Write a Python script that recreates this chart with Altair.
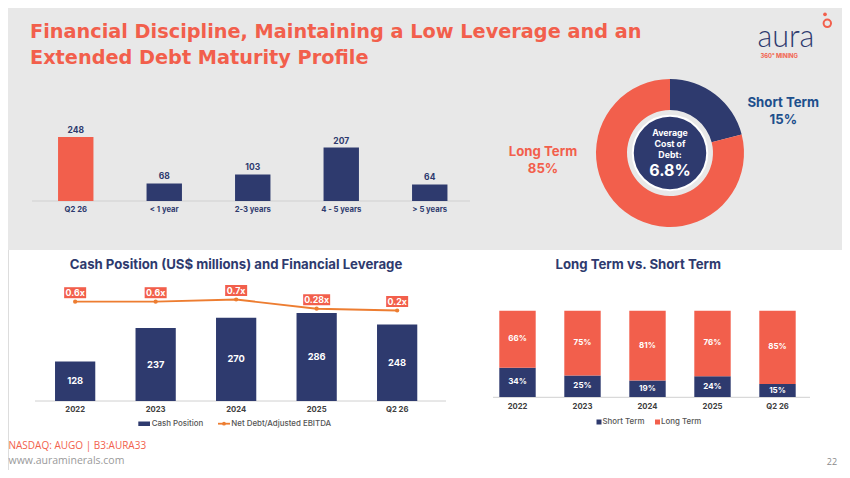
import altair as alt
import pandas as pd

# ---------------- colours / fonts ----------------
CORAL = "#F25F4C"
NAVY = "#2E3A6E"
BLUE = "#1D4F8C"
ORANGE = "#ED7D31"
BG = "#E8E8E8"
AXIS_TXT = "#404040"
LEGEND_TXT = "#555555"
FONT = "Inter"
TITLE_FONT = "DejaVu Sans"

# ---------------- data ----------------
maturity_buckets = ["Q2 26", "< 1 year", "2-3 years", "4 - 5 years", "> 5 years"]
maturity_amounts = [248, 68, 103, 207, 64]

periods = ["2022", "2023", "2024", "2025", "Q2 26"]
cash_position = [128, 237, 270, 286, 248]
net_debt_ebitda = [0.6, 0.6, 0.7, 0.28, 0.2]
leverage_labels = ["0.6x", "0.6x", "0.7x", "0.28x", "0.2x"]

short_term_pct = [34, 25, 19, 24, 15]
long_term_pct = [66, 75, 81, 76, 85]

donut_slices = ["Short Term", "Long Term"]
donut_drawn_share = [21, 79]   # slice sizes as drawn in the picture
donut_labels = ["15%", "85%"]
avg_cost_caption = ["Average", "Cost of", "Debt:"]
avg_cost_of_debt = "6.8%"

W, H = 834, 462

# ---------------- tables ----------------
mat_df = pd.DataFrame({"bucket": maturity_buckets, "amount": maturity_amounts})
cash_df = pd.DataFrame({"year": periods, "cash": cash_position,
                        "lev": net_debt_ebitda, "lev_label": leverage_labels})
rows = []
for y, s, l in zip(periods, short_term_pct, long_term_pct):
    rows.append({"year": y, "term": "Short Term", "pct": s, "start": 0, "end": s})
    rows.append({"year": y, "term": "Long Term", "pct": l, "start": s, "end": s + l})
term_df = pd.DataFrame(rows)
donut_df = pd.DataFrame({"slice": donut_slices, "share": donut_drawn_share,
                         "ord": list(range(len(donut_slices)))})

ONE = pd.DataFrame({"k": [0]})


def note(text, x, y, size, color, weight="bold", align="center",
         baseline="middle", font=FONT, **kw):
    return alt.Chart(ONE).mark_text(
        text=text, fontSize=size, color=color, fontWeight=weight,
        align=align, baseline=baseline, font=font, **kw
    ).encode(x=alt.value(x), y=alt.value(y))


def hline(x1, x2, y, color="#D0D0D0", width=1):
    return alt.Chart(ONE).mark_rule(color=color, strokeWidth=width).encode(
        x=alt.value(x1), x2=alt.value(x2), y=alt.value(y))


def box(x1, x2, y1, y2, color):
    return alt.Chart(ONE).mark_rect(color=color).encode(
        x=alt.value(x1), x2=alt.value(x2), y=alt.value(y1), y2=alt.value(y2))


layers = []

# background band
layers.append(box(0, W, 0, 242, BG))

# header
layers.append(note("Financial Discipline, Maintaining a Low Leverage and an", 22, 29.5, 19.3,
                   CORAL, align="left", baseline="alphabetic", font=TITLE_FONT))
layers.append(note("Extended Debt Maturity Profile", 22, 55.5, 19.3, CORAL,
                   align="left", baseline="alphabetic", font=TITLE_FONT))
# logo
layers.append(note("aura", 749.5, 38.7, 30.5, NAVY, weight=300, align="left",
                   baseline="alphabetic", font="Lato"))
layers.append(note("360° MINING", 752.5, 47.7, 5.8, CORAL, align="left"))
layers.append(alt.Chart(ONE).mark_point(shape="circle", size=55, filled=False,
                                        stroke=CORAL, strokeWidth=2, opacity=1)
              .encode(x=alt.value(819.3), y=alt.value(15.3)))
layers.append(alt.Chart(ONE).mark_point(shape="circle", size=14, filled=True,
                                        fill=CORAL, opacity=1)
              .encode(x=alt.value(817), y=alt.value(6.3)))

# ---------------- top-left: debt maturity ----------------
x_mat = alt.X("bucket:N", sort=maturity_buckets, axis=None,
              scale=alt.Scale(domain=maturity_buckets, range=[23.5, 466],
                              paddingInner=0.6, paddingOuter=0.3))
y_mat = alt.Y("amount:Q", axis=None,
              scale=alt.Scale(domain=[0, 248], range=[193, 129], nice=False))
layers.append(hline(24, 462, 193))
layers.append(alt.Chart(mat_df).mark_bar().transform_calculate(
    kind="datum.bucket == 'Q2 26' ? 'cash' : 'debt'").encode(
    x=x_mat, y=y_mat,
    color=alt.Color("kind:N", legend=None,
                    scale=alt.Scale(domain=["cash", "debt"], range=[CORAL, NAVY]))))
layers.append(alt.Chart(mat_df).mark_text(
    dy=-4, baseline="alphabetic", fontSize=8.5, fontWeight="bold", color=NAVY, font=FONT
).encode(x=x_mat, y=y_mat, text="amount:Q"))
layers.append(alt.Chart(mat_df).mark_text(
    baseline="middle", fontSize=7.7, fontWeight="bold", color=NAVY, font=FONT
).encode(x=x_mat, y=alt.value(202), text="bucket:N"))

# ---------------- top-right: donut ----------------
CX, CY = 662, 145
layers.append(alt.Chart(donut_df).mark_arc(radius=74, radius2=43).encode(
    theta=alt.Theta("share:Q", stack=True),
    order=alt.Order("ord:Q"),
    color=alt.Color("slice:N", legend=None,
                    scale=alt.Scale(domain=donut_slices, range=[NAVY, CORAL])),
    x=alt.value(CX), y=alt.value(CY)))
layers.append(alt.Chart(ONE).mark_point(shape="circle", size=3.14159 * 42 * 42,
                                        filled=True, fill=NAVY, stroke="white",
                                        strokeWidth=2, opacity=1)
              .encode(x=alt.value(CX), y=alt.value(CY)))
for line_text, ly in zip(avg_cost_caption, [125, 136, 147]):
    layers.append(note(line_text, CX, ly, 8.8, "white"))
layers.append(note(avg_cost_of_debt, CX, 162.5, 16, "white"))
layers.append(note(donut_slices[0], 775.3, 95.3, 13.2, BLUE))
layers.append(note(donut_labels[0], 775.3, 112, 13.2, BLUE))
layers.append(note(donut_slices[1], 535, 143.8, 13.2, CORAL))
layers.append(note(donut_labels[1], 535, 160.5, 13.2, CORAL))

# ---------------- bottom-left: cash & leverage ----------------
layers.append(note("Cash Position (US$ millions) and Financial Leverage", 228, 257, 13.2, NAVY))
x_yr = alt.X("year:N", sort=periods, axis=None,
             scale=alt.Scale(domain=periods, range=[26.9, 429.4],
                             paddingInner=0.5, paddingOuter=0.25))
cash_scale = alt.Scale(domain=[0, 300], range=[393, 300.6], nice=False)
lev_scale = alt.Scale(domain=[0, 1], range=[306.9, 284.9], nice=False)
layers.append(hline(27, 438, 393))
layers.append(alt.Chart(cash_df).mark_bar(color=NAVY).encode(
    x=x_yr, y=alt.Y("cash:Q", axis=None, scale=cash_scale)))
layers.append(alt.Chart(cash_df).transform_calculate(mid="datum.cash / 2").mark_text(
    baseline="middle", fontSize=9.3, fontWeight="bold", color="white", font=FONT
).encode(x=x_yr, y=alt.Y("mid:Q", axis=None, scale=cash_scale), text="cash:Q"))
layers.append(alt.Chart(cash_df).mark_line(color=ORANGE, strokeWidth=1.8).encode(
    x=x_yr, y=alt.Y("lev:Q", axis=None, scale=lev_scale)))
layers.append(alt.Chart(cash_df).mark_point(shape="circle", size=18, filled=True,
                                            color=ORANGE, opacity=1).encode(
    x=x_yr, y=alt.Y("lev:Q", axis=None, scale=lev_scale)))
for n, w in [(4, 22), (5, 27)]:
    layers.append(alt.Chart(cash_df).transform_filter(
        f"length(datum.lev_label) == {n}").mark_bar(
        color=CORAL, width=w, yOffset=-14.5, y2Offset=-3.5).encode(
        x=x_yr, y=alt.Y("lev:Q", axis=None, scale=lev_scale), y2="lev:Q"))
layers.append(alt.Chart(cash_df).mark_text(
    dy=-9, baseline="middle", fontSize=8.8, fontWeight="bold", color="white", font=FONT
).encode(x=x_yr, y=alt.Y("lev:Q", axis=None, scale=lev_scale), text="lev_label:N"))
layers.append(alt.Chart(cash_df).mark_text(
    baseline="middle", fontSize=7.7, fontWeight="bold", color=AXIS_TXT, font=FONT
).encode(x=x_yr, y=alt.value(402), text="year:N"))
# legend
layers.append(box(130.3, 142, 413.5, 418, NAVY))
layers.append(note("Cash Position", 143.7, 415.7, 7.9, LEGEND_TXT, weight=500, align="left"))
layers.append(hline(210, 222, 415.7, ORANGE, 1.8))
layers.append(alt.Chart(ONE).mark_point(shape="circle", size=14, filled=True,
                                        color=ORANGE, opacity=1)
              .encode(x=alt.value(216), y=alt.value(415.7)))
layers.append(note("Net Debt/Adjusted EBITDA", 223.3, 415.7, 7.9, LEGEND_TXT,
                   weight=500, align="left"))

# ---------------- bottom-right: long vs short ----------------
layers.append(note("Long Term vs. Short Term", 630.3, 257, 13.2, NAVY))
x_ls = alt.X("year:N", sort=periods, axis=None,
             scale=alt.Scale(domain=periods, range=[477, 802],
                             paddingInner=0.44, paddingOuter=0.22))
pct_scale = alt.Scale(domain=[0, 100], range=[389, 302.7], nice=False)
layers.append(hline(485, 802, 389.3))
layers.append(alt.Chart(term_df).mark_bar().encode(
    x=x_ls, y=alt.Y("start:Q", axis=None, scale=pct_scale), y2="end:Q",
    color=alt.Color("term:N", legend=None,
                    scale=alt.Scale(domain=["Short Term", "Long Term"], range=[NAVY, CORAL]))))
layers.append(alt.Chart(term_df).transform_calculate(
    mid="(datum.start + datum.end) / 2", lab="datum.pct + '%'").mark_text(
    baseline="middle", fontSize=8, fontWeight="bold", color="white", font=FONT
).encode(x=x_ls, y=alt.Y("mid:Q", axis=None, scale=pct_scale), text="lab:N"))
layers.append(alt.Chart(term_df).transform_filter("datum.term == 'Short Term'").mark_text(
    baseline="middle", fontSize=7.7, fontWeight="bold", color=AXIS_TXT, font=FONT
).encode(x=x_ls, y=alt.value(399.3), text="year:N"))
layers.append(box(588.5, 593.5, 411.5, 416.5, NAVY))
layers.append(note("Short Term", 594.5, 414, 7.9, LEGEND_TXT, weight=500, align="left"))
layers.append(box(647, 652, 411.5, 416.5, CORAL))
layers.append(note("Long Term", 653, 414, 7.9, LEGEND_TXT, weight=500, align="left"))

# ---------------- footer ----------------
layers.append(note("NASDAQ: AUGO | B3:AURA33", 0.5, 438, 10, CORAL, weight="normal",
                   align="left", font="Open Sans"))
layers.append(note("www.auraminerals.com", 0.5, 453, 10.5, "#9A9A9A", weight="normal",
                   align="left", font="Open Sans"))
layers.append(note("22", 824, 454, 9, "#8A8A8A", weight="normal", font="Open Sans"))

chart = alt.layer(*layers).properties(
    width=W, height=H, padding=0,
    autosize=alt.AutoSizeParams(type="none")
).resolve_scale(
    x="independent", y="independent", color="independent"
).configure_view(stroke=None).configure(background="white")

chart.save("out.html", embed_options={"renderer": "svg", "actions": False})
